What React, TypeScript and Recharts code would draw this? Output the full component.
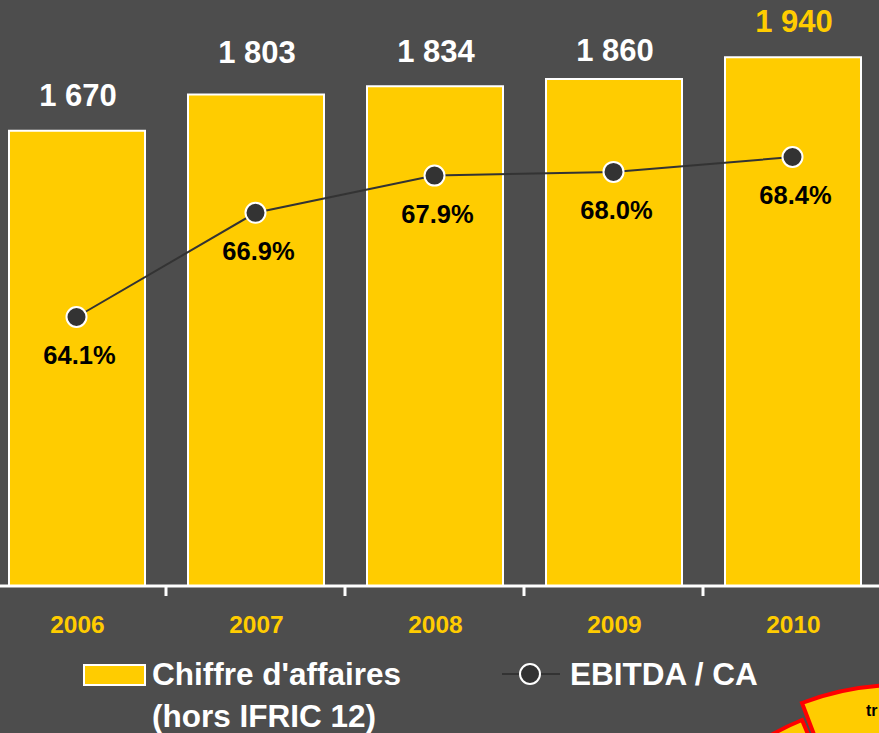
import React from 'react'
import {
  ComposedChart,
  Bar,
  Line,
  XAxis,
  YAxis,
  LabelList,
} from 'recharts'

const years = ['2006', '2007', '2008', '2009', '2010']
const revenue = [1670, 1803, 1834, 1860, 1940]
const ebitdaMargin = [64.1, 66.9, 67.9, 68.0, 68.4]
const revenueName = ["Chiffre d'affaires", '(hors IFRIC 12)']
const marginName = 'EBITDA / CA'

// the value labels above the bars were placed by hand in the original slide
const revenueLabelLift = [25, 32, 24, 18, 25]

const BG = '#4D4D4D'
const YELLOW = '#FFCC00'
const DARK = '#333333'
const FONT = '"Liberation Sans", Arial, sans-serif'
const LATEST = years.length - 1

const data = years.map((year, i) => ({
  year,
  revenue: revenue[i],
  margin: ebitdaMargin[i],
}))

function formatThousands(v: number): string {
  const k = Math.floor(v / 1000)
  const rest = String(v % 1000).padStart(3, '0')
  return k > 0 ? `${k} ${rest}` : String(v)
}

function YearTick(props: any) {
  const { x, y, payload, index } = props
  const half = payload?.offset ?? 89.5
  return (
    <g>
      <text
        x={x + 1}
        y={y + 47}
        textAnchor="middle"
        fill={YELLOW}
        fontSize={24.5}
        fontWeight="bold"
        fontFamily={FONT}
      >
        {payload.value}
      </text>
      {index < years.length - 1 && (
        <line x1={x + half} x2={x + half} y1={y} y2={y + 10} stroke="#fff" strokeWidth={3} />
      )}
    </g>
  )
}

function RevenueLabel(props: any) {
  const { x, y, width, value, index } = props
  return (
    <text
      x={x + width / 2 + 1}
      y={y - (revenueLabelLift[index] ?? 25)}
      textAnchor="middle"
      fill={index === LATEST ? YELLOW : '#fff'}
      fontSize={31}
      fontWeight="bold"
      fontFamily={FONT}
    >
      {formatThousands(value)}
    </text>
  )
}

function MarginLabel(props: any) {
  const { x, y, value } = props
  return (
    <text
      x={x + 3}
      y={y + 47}
      textAnchor="middle"
      fill="#000"
      fontSize={25.5}
      fontWeight="bold"
      fontFamily={FONT}
    >
      {`${Number(value).toFixed(1)}%`}
    </text>
  )
}

export default function App() {
  return (
    <div
      style={{
        position: 'absolute',
        left: 0,
        top: 0,
        width: 879,
        height: 733,
        background: BG,
        overflow: 'hidden',
        fontFamily: FONT,
      }}
    >
      <div style={{ position: 'absolute', left: -13, top: 0 }}>
        <ComposedChart
          width={895}
          height={733}
          data={data}
          margin={{ top: 0, right: 0, bottom: 0, left: 0 }}
          barCategoryGap={0}
        >
          <XAxis
            dataKey="year"
            height={147}
            axisLine={{ stroke: '#fff', strokeWidth: 3 }}
            tickLine={false}
            tickSize={0}
            tickMargin={0}
            tick={<YearTick />}
            interval={0}
          />
          <YAxis yAxisId="rev" hide domain={[0, 2150]} />
          <YAxis yAxisId="pct" hide orientation="right" domain={[56.87, 72.62]} />
          <Bar
            yAxisId="rev"
            dataKey="revenue"
            fill={YELLOW}
            stroke="#fff"
            strokeWidth={2}
            barSize={136}
            isAnimationActive={false}
          >
            <LabelList dataKey="revenue" content={<RevenueLabel />} />
          </Bar>
          <Line
            yAxisId="pct"
            dataKey="margin"
            stroke={DARK}
            strokeWidth={2}
            dot={{ r: 10, fill: DARK, stroke: '#fff', strokeWidth: 2 }}
            isAnimationActive={false}
          >
            <LabelList dataKey="margin" content={<MarginLabel />} />
          </Line>
        </ComposedChart>
      </div>
      <svg
        width={879}
        height={733}
        style={{ position: 'absolute', left: 0, top: 0 }}
        fontFamily={FONT}
      >
        <rect x={84} y={665} width={61} height={20} fill={YELLOW} stroke="#fff" strokeWidth={2} />
        <text x={152} y={685} fill="#fff" fontSize={31.5} fontWeight="bold">
          {revenueName[0]}
        </text>
        <text x={152} y={727} fill="#fff" fontSize={31.5} fontWeight="bold">
          {revenueName[1]}
        </text>
        <line x1={502} x2={560} y1={674} y2={674} stroke={DARK} strokeWidth={2} />
        <circle cx={530} cy={674} r={10} fill={DARK} stroke="#fff" strokeWidth={2} />
        <text x={570} y={685} fill="#fff" fontSize={31.5} fontWeight="bold">
          {marginName}
        </text>
        {/* decorative pie peeking in from the corner */}
        <path
          d="M 905 965 L 802 720 A 266 266 0 0 0 650 1050 Z"
          fill={YELLOW}
          stroke="#FF0000"
          strokeWidth={4}
        />
        <path
          d="M 900 960 L 802 703 A 275 275 0 0 1 1050 730 Z"
          fill={YELLOW}
          stroke="#FF0000"
          strokeWidth={4}
        />
        <text x={866} y={716} fill="#000" fontSize={16} fontWeight="bold">
          tr
        </text>
      </svg>
    </div>
  )
}
